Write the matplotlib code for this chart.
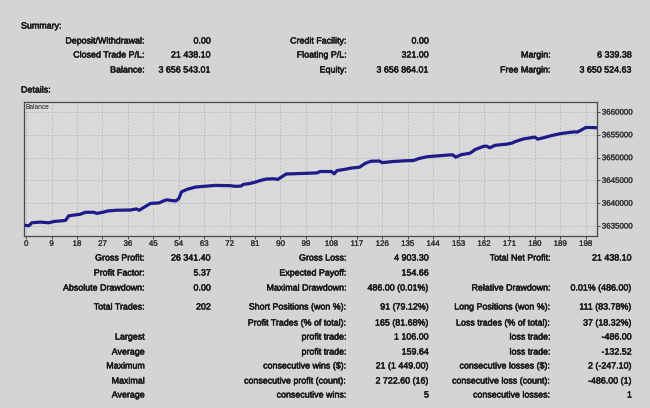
import matplotlib
matplotlib.use("Agg")
import matplotlib.pyplot as plt
import matplotlib.patheffects as pe

# ---------------- data ----------------
trade_idx = [0, 1, 2, 5, 7, 8, 10, 13, 14, 15, 17, 19, 21, 24, 25, 27, 29, 32, 37, 39,
             40, 42, 44, 47, 49, 50, 51, 53, 54, 55, 57, 60, 63, 67, 72, 74, 76, 77, 79, 81,
             83, 85, 88, 89, 91, 92, 99, 103, 104, 108, 109, 110, 113, 115, 118, 120, 122, 125, 126, 130,
             134, 137, 139, 142, 146, 150, 151, 152, 154, 157, 159, 162, 163, 164, 166, 170, 172, 173, 176, 180,
             181, 184, 186, 189, 192, 194, 195, 196, 198, 200, 202]
balance = [3635105, 3635050, 3635700, 3635850, 3635750, 3635700, 3636000, 3636150, 3636250, 3637200,
           3637400, 3637550, 3638000, 3638000, 3637750, 3638000, 3638300, 3638450, 3638500, 3638750,
           3638450, 3639200, 3639950, 3640050, 3640600, 3640750, 3640600, 3640500, 3641000, 3642500,
           3643050, 3643550, 3643700, 3643900, 3643850, 3643700, 3643750, 3644150, 3644300, 3644600,
           3645000, 3645300, 3645350, 3645200, 3646000, 3646400, 3646550, 3646650, 3646950, 3646950,
           3646450, 3647150, 3647450, 3647700, 3647900, 3648750, 3649200, 3649250, 3648900, 3649150,
           3649300, 3649350, 3649800, 3650200, 3650400, 3650600, 3650600, 3650100, 3650650, 3650950,
           3651800, 3652500, 3652500, 3652150, 3652700, 3652950, 3653200, 3653500, 3654100, 3654500,
           3654050, 3654500, 3654850, 3655250, 3655500, 3655650, 3655600, 3655900, 3656600, 3656600,
           3656543]
x_ticks = list(range(0, 199, 9))
y_ticks = [3635000, 3640000, 3645000, 3650000, 3655000, 3660000]

summary_rows = [
    ["Deposit/Withdrawal:", "0.00", "Credit Facility:", "0.00", "", ""],
    ["Closed Trade P/L:", "21 438.10", "Floating P/L:", "321.00", "Margin:", "6 339.38"],
    ["Balance:", "3 656 543.01", "Equity:", "3 656 864.01", "Free Margin:", "3 650 524.63"],
]
detail_rows = [
    ["Gross Profit:", "26 341.40", "Gross Loss:", "4 903.30", "Total Net Profit:", "21 438.10"],
    ["Profit Factor:", "5.37", "Expected Payoff:", "154.66", "", ""],
    ["Absolute Drawdown:", "0.00", "Maximal Drawdown:", "486.00 (0.01%)", "Relative Drawdown:", "0.01% (486.00)"],
    ["Total Trades:", "202", "Short Positions (won %):", "91 (79.12%)", "Long Positions (won %):", "111 (83.78%)"],
    ["", "", "Profit Trades (% of total):", "165 (81.68%)", "Loss trades (% of total):", "37 (18.32%)"],
    ["Largest", "", "profit trade:", "1 106.00", "loss trade:", "-486.00"],
    ["Average", "", "profit trade:", "159.64", "loss trade:", "-132.52"],
    ["Maximum", "", "consecutive wins ($):", "21 (1 449.00)", "consecutive losses ($):", "2 (-247.10)"],
    ["Maximal", "", "consecutive profit (count):", "2 722.60 (16)", "consecutive loss (count):", "-486.00 (1)"],
    ["Average", "", "consecutive wins:", "5", "consecutive losses:", "1"],
]

# ---------------- layout ----------------
W, H = 650, 408
BG = "#d4d4d4"
TXT = "#181818"
FONT = "Liberation Sans"
FS = 6.4
THICK = [pe.withStroke(linewidth=0.35, foreground=TXT)]
THIN = [pe.withStroke(linewidth=0.2, foreground="#333333")]

fig = plt.figure(figsize=(W / 100, H / 100), dpi=100, facecolor=BG)

def px_text(x, y, s, ha="right", **kw):
    fig.text(x / W, 1 - y / H, s, ha=ha, va="center", fontsize=kw.pop("fontsize", FS),
             family=FONT, color=TXT, path_effects=THICK, **kw)

col_x = [145, 211, 347, 429, 551, 632]

px_text(21, 26, "Summary:", ha="left")
for r, yy in zip(summary_rows, [41, 55, 70]):
    for s, xx in zip(r, col_x):
        if s:
            px_text(xx, yy, s)
px_text(21, 90, "Details:", ha="left")

detail_y = [258, 273, 288, 307, 323, 337, 352, 366, 381, 395]
for r, yy in zip(detail_rows, detail_y):
    for s, xx in zip(r, col_x):
        if s:
            px_text(xx, yy, s)

# chart
ax_l, ax_r, ax_t, ax_b = 23.6, 597, 102, 236
ax = fig.add_axes([ax_l / W, 1 - ax_b / H, (ax_r - ax_l) / W, (ax_b - ax_t) / H])
ax.set_facecolor("#d9d9d9")
ax.plot(trade_idx, balance, color="#1b1b8a", lw=2.3, solid_joinstyle="round", zorder=3)
ax.set_xlim(-0.9, 202)
ax.set_ylim(3632800, 3662200)
ax.set_xticks(x_ticks)
ax.set_xticklabels([str(v) for v in x_ticks])
ax.set_yticks(y_ticks)
ax.set_yticklabels([str(v) for v in y_ticks])
ax.yaxis.tick_right()
ax.tick_params(axis="both", labelsize=5.7, colors="#333333", length=2, width=0.6, pad=1.5)
for lab in ax.get_xticklabels() + ax.get_yticklabels():
    lab.set_family(FONT)
    lab.set_path_effects(THIN)
ax.grid(True, color="#b4b4b4", linestyle=(0, (2, 2)), linewidth=0.6, zorder=0)
for sp in ax.spines.values():
    sp.set_color("#4a4a4a")
    sp.set_linewidth(0.9)
ax.text(0.004, 0.985, "Balance", transform=ax.transAxes, ha="left", va="top",
        fontsize=4.8, family=FONT, color=TXT)

fig.savefig("out.png", dpi=100, facecolor=BG)
